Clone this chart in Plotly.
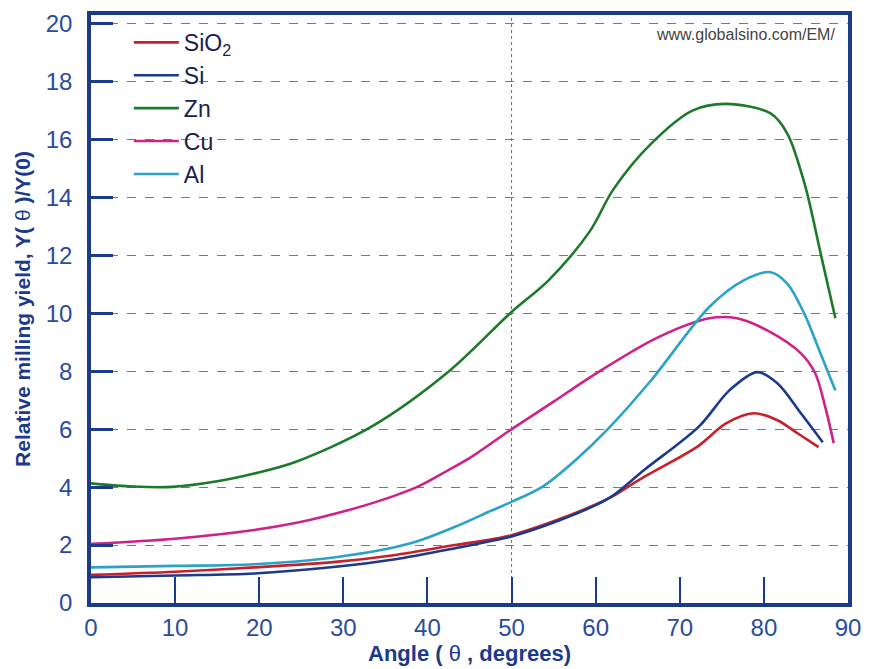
import plotly.graph_objects as go

# Data (angle in degrees, relative milling yield)
sio2_x = [0, 10, 19.4, 29.1, 36, 43.3, 47.7, 50, 55, 60, 62, 65.8, 72.1, 75.5, 78.8, 81.6, 84.0, 86.5]
sio2_y = [0.97, 1.08, 1.23, 1.42, 1.65, 2.0, 2.2, 2.34, 2.82, 3.4, 3.68, 4.36, 5.4, 6.2, 6.55, 6.31, 5.86, 5.38]

si_x = [0, 10, 19.4, 29.1, 36, 43.3, 47.7, 50, 55, 60, 62, 65.8, 72.3, 75.9, 79.2, 81.6, 84.4, 87.0]
si_y = [0.89, 0.95, 1.02, 1.25, 1.5, 1.89, 2.15, 2.3, 2.78, 3.38, 3.7, 4.6, 6.1, 7.34, 7.97, 7.59, 6.55, 5.55]

zn_x = [0, 5, 9.7, 15, 19.4, 24.3, 33.3, 42.6, 49.9, 54.4, 59.3, 62.1, 66.6, 71.5, 75.5, 80.8, 82.8, 84.9, 86.8, 88.5]
zn_y = [4.13, 4.02, 4.01, 4.2, 4.47, 4.87, 6.08, 8.01, 10.02, 11.14, 12.83, 14.28, 15.86, 17.0, 17.23, 16.9, 16.2, 14.41, 12.0, 9.83]

cu_x = [0, 10, 19.4, 24.3, 29.1, 34, 38.8, 42.5, 45, 50.1, 55, 59.7, 67.4, 73.5, 76.8, 80.4, 84.4, 86.1, 87.3, 88.3]
cu_y = [2.04, 2.22, 2.52, 2.76, 3.09, 3.5, 4.01, 4.59, 5.0, 6.02, 6.95, 7.86, 9.17, 9.83, 9.83, 9.41, 8.62, 7.93, 6.76, 5.52]

al_x = [0, 10, 19.4, 29.1, 38, 43.3, 47.7, 50, 53.7, 57.6, 61.5, 66.6, 73.5, 77.6, 80.8, 82.8, 84.8, 86.9, 88.5]
al_y = [1.23, 1.28, 1.34, 1.58, 2.06, 2.63, 3.2, 3.49, 4.02, 4.93, 6.02, 7.69, 10.22, 11.14, 11.42, 11.02, 9.99, 8.49, 7.34]

x_ticks = [0, 10, 20, 30, 40, 50, 60, 70, 80, 90]
y_ticks = [0, 2, 4, 6, 8, 10, 12, 14, 16, 18, 20]

series = [
    ("SiO<sub>2</sub>", sio2_x, sio2_y, "#c8202a"),
    ("Si", si_x, si_y, "#1c3a8c"),
    ("Zn", zn_x, zn_y, "#1d7a2a"),
    ("Cu", cu_x, cu_y, "#d0208a"),
    ("Al", al_x, al_y, "#2aa3c6"),
]

AX = "#1c3a8c"
TICK = "#2a4c9e"
fig = go.Figure()
for name, xs, ys, col in series:
    fig.add_trace(go.Scatter(x=xs, y=ys, name=name, mode="lines",
                             line=dict(color=col, width=2.6, shape="spline", smoothing=0.9)))

fig.add_shape(type="line", xref="x", yref="paper", x0=50, x1=50, y0=0, y1=1,
              line=dict(color="#5a6aa8", width=1, dash="dot"), layer="below")

fig.add_annotation(text="www.globalsino.com/EM/", xref="paper", yref="paper",
                   x=0.985, y=0.985, xanchor="right", yanchor="top", showarrow=False,
                   font=dict(family="Liberation Sans, Arial", size=16, color="#444444"))

fig.update_layout(
    width=872, height=669,
    margin=dict(l=91, r=24, t=15, b=66, autoexpand=False),
    paper_bgcolor="white", plot_bgcolor="white",
    font=dict(family="Liberation Sans, Arial", color=AX),
    showlegend=True,
    legend=dict(x=0.05, y=0.99, xanchor="left", yanchor="top",
                bgcolor="rgba(0,0,0,0)", font=dict(size=23, color="#1a2050"),
                itemwidth=45, tracegroupgap=0),
    xaxis=dict(range=[0, 90], tickvals=x_ticks, ticks="inside", ticklen=26, tickwidth=2,
               tickcolor=AX, showline=True, linecolor=AX, linewidth=4, mirror=True,
               showgrid=False, zeroline=False, tickfont=dict(size=24, color=TICK),
               automargin=False,
               title=dict(text="<b>Angle ( </b>θ<b> , degrees)</b>", font=dict(size=22, color=AX), standoff=6)),
    yaxis=dict(range=[0, 20.3], tickvals=y_ticks, ticks="inside", ticklen=22, tickwidth=3,
               tickcolor=AX, showline=True, linecolor=AX, linewidth=3.5, mirror=True,
               showgrid=True, gridcolor="#6a78a8", gridwidth=1, griddash="dash",
               zeroline=False, tickfont=dict(size=24, color=TICK), ticklabelstandoff=10,
               automargin=False,
               title=dict(text="<b>Relative milling yield, Y( </b>θ<b> )/Y(0)</b>", font=dict(size=21, color=AX), standoff=10)),
)

fig.write_html("out.html")
